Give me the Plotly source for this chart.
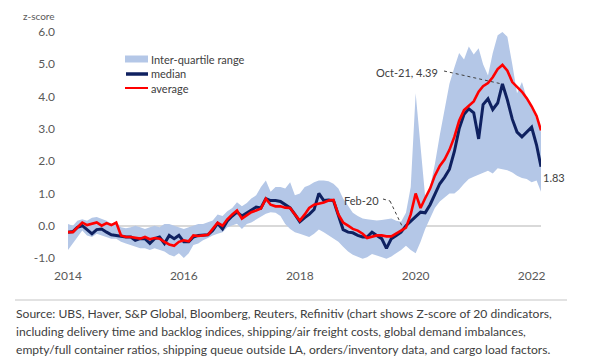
import pandas as pd
import plotly.graph_objects as go

# ---------------- data (monthly, Jan-2014 .. Mar-2022) ----------------
dates = pd.date_range("2014-01-01", periods=99, freq="MS")

median = [
    -0.20, -0.18, -0.05, 0.00, -0.12, -0.25, -0.12, -0.10, -0.20, -0.28, -0.30, -0.33,
    -0.35, -0.35, -0.45, -0.40, -0.40, -0.55, -0.40, -0.35, -0.55, -0.30, -0.40, -0.30,
    -0.50, -0.50, -0.35, -0.30, -0.30, -0.28, -0.15, 0.07, -0.10, 0.15, 0.30, 0.42,
    0.30, 0.40, 0.50, 0.58, 0.55, 0.84, 0.78, 0.78, 0.75, 0.65, 0.55, 0.35,
    0.12, 0.25, 0.35, 0.50, 1.00, 0.78, 0.80, 0.78, 0.30, -0.12, -0.20, -0.22,
    -0.30, -0.35, -0.35, -0.20, -0.30, -0.40, -0.70, -0.40, -0.30, -0.20, 0.00, 0.15,
    0.28, 0.42, 0.40, 0.65, 0.95, 1.30, 1.50, 1.75, 2.30, 3.00, 3.45, 3.62,
    3.50, 2.69, 3.75, 3.93, 3.60, 3.80, 4.39, 3.90, 3.30, 2.90, 2.75, 2.90,
    3.05, 2.50, 1.83,
]
average = [
    -0.20, -0.20, -0.05, 0.10, 0.02, 0.05, 0.10, 0.00, 0.08, 0.02, 0.10, -0.30,
    -0.35, -0.35, -0.38, -0.40, -0.35, -0.42, -0.38, -0.40, -0.50, -0.58, -0.62, -0.50,
    -0.45, -0.48, -0.30, -0.32, -0.30, -0.28, -0.10, 0.09, 0.00, 0.20, 0.35, 0.47,
    0.22, 0.33, 0.42, 0.47, 0.53, 0.84, 0.65, 0.60, 0.60, 0.56, 0.55, 0.35,
    0.16, 0.35, 0.55, 0.65, 0.68, 0.72, 0.78, 0.80, 0.35, 0.10, 0.00, -0.10,
    -0.15, -0.25, -0.38, -0.35, -0.30, -0.30, -0.33, -0.33, -0.25, -0.15, -0.06, 0.35,
    1.00, 0.55, 0.85, 1.15, 1.55, 1.85, 2.05, 2.35, 2.75, 3.25, 3.58, 3.72,
    3.85, 4.15, 4.32, 4.42, 4.60, 4.85, 4.98, 4.80, 4.45, 4.30, 4.15, 3.95,
    3.70, 3.40, 2.95,
]
iqr_low = [
    -0.75, -0.55, -0.35, -0.15, -0.30, -0.35, -0.25, -0.30, -0.35, -0.40, -0.40, -0.50,
    -0.55, -0.60, -0.65, -0.70, -0.70, -0.75, -0.70, -0.75, -0.80, -0.90, -0.95, -0.85,
    -1.00, -0.85, -0.60, -0.55, -0.45, -0.38, -0.30, -0.25, -0.20, -0.05, 0.00, 0.06,
    -0.10, 0.05, 0.10, 0.20, 0.27, 0.37, 0.42, 0.40, 0.30, 0.05, -0.10, -0.20,
    -0.25, -0.30, -0.35, -0.25, -0.12, -0.20, -0.30, -0.40, -0.50, -0.65, -0.80, -0.90,
    -0.97, -1.02, -0.98, -0.88, -0.92, -0.97, -1.02, -0.95, -0.85, -0.75, -0.62, -0.75,
    -0.85, -0.50, -0.10, 0.25, 0.55, 0.75, 0.88, 1.00, 1.00, 1.12, 1.30, 1.45,
    1.52, 1.58, 1.62, 1.70, 1.62, 1.78, 1.75, 1.72, 1.65, 1.55, 1.48, 1.45,
    1.35, 1.40, 1.05,
]
iqr_high = [
    0.05, 0.00, 0.15, 0.20, 0.15, 0.25, 0.27, 0.20, 0.15, 0.05, 0.10, -0.05,
    -0.08, -0.05, 0.00, -0.05, -0.10, -0.05, 0.00, -0.05, 0.05, 0.05, 0.00, -0.05,
    -0.10, -0.05, 0.00, 0.05, 0.05, 0.10, 0.16, 0.35, 0.30, 0.45, 0.55, 0.73,
    0.60, 0.70, 0.84, 0.94, 1.20, 1.40, 1.05, 1.20, 1.20, 1.15, 1.35, 0.94,
    1.00, 1.20, 1.25, 1.35, 1.40, 1.40, 1.38, 1.30, 1.15, 0.84, 0.60, 0.40,
    0.30, 0.22, 0.20, 0.18, 0.16, 0.18, 0.20, 0.22, 0.15, 0.12, 0.40, 1.20,
    4.10, 2.50, 0.90, 1.20, 1.90, 2.80, 3.60, 4.40, 4.90, 5.35, 5.15, 5.55,
    5.30, 5.50, 5.00, 4.65, 5.35, 5.90, 6.00, 5.85, 5.00, 4.10, 4.45, 3.95,
    3.70, 3.30, 2.90,
]

year_ticks = ["2014-01-01", "2016-01-01", "2018-01-01", "2020-01-01", "2022-01-01"]
year_labels = ["2014", "2016", "2018", "2020", "2022"]
y_ticks = [-1, 0, 1, 2, 3, 4, 5, 6]
y_labels = ["-1.0", "0.0", "1.0", "2.0", "3.0", "4.0", "5.0", "6.0"]
series_names = ["Inter-quartile range", "median", "average"]

# ---------------- layout geometry (reference pixel coords, page has 8px body margin) ----------------
OFF = 8
W, H = 602 - OFF, 364 - OFF
PLOT_L, PLOT_R, PLOT_T, PLOT_B = 68, 541, 29, 260          # in reference pixels
L, T = PLOT_L - OFF, PLOT_T - OFF
R, B = W - (PLOT_R - OFF), H - (PLOT_B - OFF)
Y_MIN, Y_MAX = -1.062, 6.093
X0, X1 = pd.Timestamp("2014-01-01"), pd.Timestamp("2022-03-01")
PW, PH = PLOT_R - PLOT_L, PLOT_B - PLOT_T


def px_date(px):
    return (X0 + (X1 - X0) * ((px - PLOT_L) / PW)).strftime("%Y-%m-%d %H:%M")


def py_val(py):
    return Y_MAX - (py - PLOT_T) / PH * (Y_MAX - Y_MIN)


def paper_x(px):
    return (px - PLOT_L) / PW


def paper_y(py):
    return (PLOT_B - py) / PH


FONT = "Lato, 'Open Sans', sans-serif"
GRAY = "#595959"
DARK = "#404040"
BAND = "#b4c7e7"
NAVY = "#0f2160"
RED = "#ff0000"

fig = go.Figure()
fig.add_trace(go.Scatter(x=dates, y=iqr_low, mode="lines", line=dict(width=0, color=BAND),
                         showlegend=False, hoverinfo="skip"))
fig.add_trace(go.Scatter(x=dates, y=iqr_high, mode="lines", line=dict(width=0, color=BAND),
                         fill="tonexty", fillcolor=BAND, name=series_names[0], showlegend=False))
fig.add_trace(go.Scatter(x=dates, y=median, mode="lines", name=series_names[1],
                         line=dict(color=NAVY, width=3), showlegend=False))
fig.add_trace(go.Scatter(x=dates, y=average, mode="lines", name=series_names[2],
                         line=dict(color=RED, width=2.6), showlegend=False))

shapes = [
    # top and bottom separator lines
    dict(type="line", xref="paper", yref="paper", x0=paper_x(15), x1=paper_x(567),
         y0=paper_y(2), y1=paper_y(2), line=dict(color="#d9d9d9", width=3)),
    dict(type="line", xref="paper", yref="paper", x0=paper_x(15), x1=paper_x(567),
         y0=paper_y(300), y1=paper_y(300), line=dict(color="#d9d9d9", width=1.5)),
    # leader lines
    dict(type="line", xref="x", yref="y", x0=px_date(444), y0=py_val(71),
         x1=px_date(502), y1=py_val(84), line=dict(color=DARK, width=1, dash="dot")),
    dict(type="line", xref="x", yref="y", x0=px_date(383), y0=py_val(199),
         x1=px_date(390), y1=py_val(201), line=dict(color=DARK, width=1, dash="dot")),
    dict(type="line", xref="x", yref="y", x0=px_date(390), y0=py_val(201),
         x1=px_date(402), y1=py_val(226), line=dict(color=DARK, width=1, dash="dot")),
    # legend symbols
    dict(type="rect", xref="paper", yref="paper", x0=paper_x(125), x1=paper_x(148),
         y0=paper_y(62.5), y1=paper_y(55.5), fillcolor=BAND, line=dict(width=0)),
    dict(type="line", xref="paper", yref="paper", x0=paper_x(126), x1=paper_x(148),
         y0=paper_y(74), y1=paper_y(74), line=dict(color=NAVY, width=3.5)),
    dict(type="line", xref="paper", yref="paper", x0=paper_x(125), x1=paper_x(148),
         y0=paper_y(88), y1=paper_y(88), line=dict(color=RED, width=2)),
]

source_lines = [
    "Source: UBS, Haver, S&P Global, Bloomberg, Reuters, Refinitiv (chart shows Z-score of 20 dindicators,",
    "including delivery time and backlog indices, shipping/air freight costs, global demand imbalances,",
    "empty/full container ratios, shipping queue outside LA, orders/inventory data, and cargo load factors.",
]
source_y = [313, 331, 349]

annotations = [
    dict(xref="paper", yref="paper", x=paper_x(57), y=paper_y(16), xanchor="right", yanchor="middle",
         text="z-score", showarrow=False, font=dict(size=10, color=GRAY, family=FONT)),
    dict(xref="x", yref="y", x=px_date(440), y=py_val(72), xanchor="right", yanchor="middle",
         text="Oct-21, 4.39", showarrow=False, font=dict(size=11, color=DARK, family=FONT)),
    dict(xref="x", yref="y", x=px_date(381), y=py_val(200), xanchor="right", yanchor="middle",
         text="Feb-20", showarrow=False, font=dict(size=11, color=DARK, family=FONT)),
    dict(xref="x", yref="y", x=dates[-1], y=py_val(177), xanchor="left", yanchor="middle",
         text="1.83", showarrow=False, font=dict(size=11, color=DARK, family=FONT)),
]
for name, yy in zip(series_names, [59, 74, 88]):
    annotations.append(dict(xref="paper", yref="paper", x=paper_x(149), y=paper_y(yy),
                            xanchor="left", yanchor="middle", text=name, showarrow=False,
                            font=dict(size=11, color=DARK, family=FONT)))
for line, yy in zip(source_lines, source_y):
    annotations.append(dict(xref="paper", yref="paper", x=paper_x(14), y=paper_y(yy),
                            xanchor="left", yanchor="middle", text=line, showarrow=False,
                            font=dict(size=12.1, color=DARK, family=FONT)))

fig.update_layout(
    width=W, height=H,
    margin=dict(l=L, r=R, t=T, b=B, pad=0),
    paper_bgcolor="white", plot_bgcolor="white",
    font=dict(family=FONT, color=GRAY),
    showlegend=False,
    xaxis=dict(type="date", range=[X0, X1], tickvals=year_ticks, ticktext=year_labels,
               showgrid=False, zeroline=False, showline=False, ticks="",
               ticklabelstandoff=7, tickfont=dict(size=12, color=GRAY, family=FONT)),
    yaxis=dict(range=[Y_MIN, Y_MAX], tickvals=y_ticks, ticktext=y_labels,
               showgrid=False, zeroline=True, zerolinecolor="#d9d9d9", zerolinewidth=1.5,
               showline=False, ticks="", ticklabelstandoff=12,
               tickfont=dict(size=12, color=GRAY, family=FONT)),
    shapes=shapes,
    annotations=annotations,
)

fig.write_html("out.html")
